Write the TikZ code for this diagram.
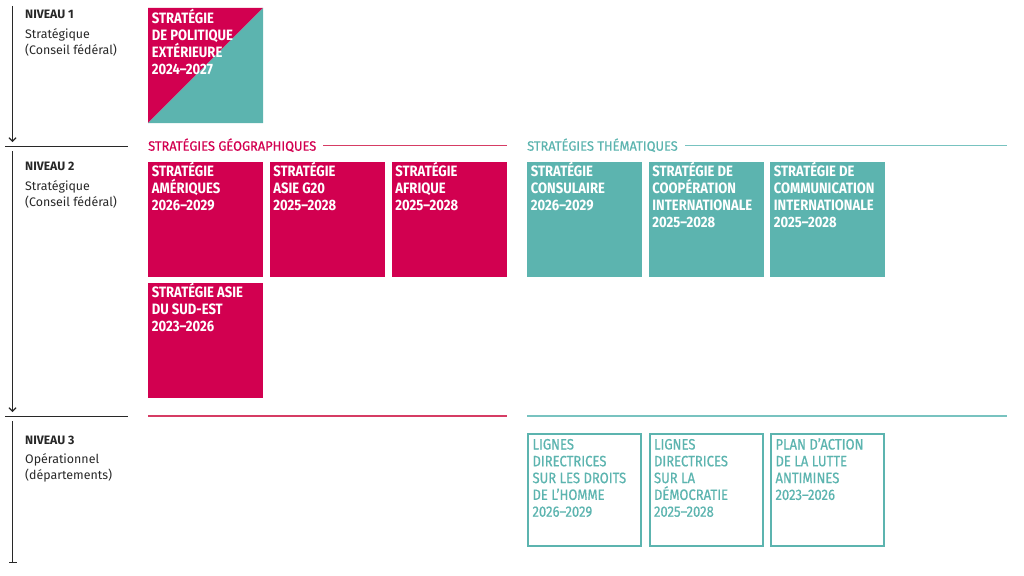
\documentclass[tikz,border=0pt]{standalone}
\usepackage{fontspec}
\usetikzlibrary{arrows.meta,calc}
\newfontfamily\cf{Fira Sans}[FakeStretch=0.87]
\newfontfamily\cfm{Fira Sans}[FakeStretch=0.87,FakeBold=0.6]
\newfontfamily\cfh{Fira Sans}[FakeStretch=0.95,FakeBold=0.6]
\newfontfamily\cfl{Fira Sans}
\definecolor{crim}{RGB}{210,0,80}
\definecolor{crimline}{RGB}{214,60,100}
\definecolor{tealf}{RGB}{92,180,175}
\definecolor{tealline}{RGB}{120,195,192}
\definecolor{axisc}{RGB}{40,40,40}
\tikzset{
  axis/.style={draw=axisc,line width=1.1pt},
  sep/.style={draw=axisc,line width=1pt},
  boxshape/.style={rectangle,anchor=north west,inner sep=0pt,outer sep=0pt,minimum width=115pt,minimum height=115pt},
  redbox/.style={boxshape,fill=crim},
  tealbox/.style={boxshape,fill=tealf},
  obox/.style={boxshape,draw=tealf,line width=2pt,minimum width=113pt,minimum height=112pt},
  wtext/.style={anchor=north west,inner sep=0pt,align=left,text=white,font=\cf\bfseries\fontsize{15}{16.8}\selectfont},
  ttext/.style={anchor=north west,inner sep=0pt,align=left,text=tealf,font=\cfm\fontsize{15}{16.8}\selectfont},
  lvlhead/.style={anchor=base west,inner sep=0pt,text=axisc,font=\cfl\bfseries\fontsize{12.2}{14}\selectfont},
  lvltext/.style={anchor=base west,inner sep=0pt,text=axisc,font=\cfl\fontsize{12.4}{14}\selectfont},
  grphead/.style={anchor=base west,inner sep=0pt,font=\cfh\fontsize{13.5}{15}\selectfont},
}
\newcommand{\fl}{\rule{0pt}{15pt}}
\begin{document}
\begin{tikzpicture}[x=1pt,y=-1pt]
\useasboundingbox (0,0) rectangle (1024,575);

% axis
\coordinate (a1s) at (12.5,6);
\coordinate (a1e) at (12.5,142);
\coordinate (a2s) at (12.5,151);
\coordinate (a2e) at (12.5,412);
\coordinate (a3s) at (12.5,421);
\coordinate (a3e) at (12.5,563);
\draw[axis,-{Straight Barb[length=3.5pt,width=7pt]}] (a1s) -- (a1e);
\draw[axis,-{Straight Barb[length=3.5pt,width=7pt]}] (a2s) -- (a2e);
\draw[axis,-{Bar[width=8pt]}] (a3s) -- (a3e);
\coordinate (s1a) at (5,146);
\coordinate (s1b) at (128,146);
\coordinate (s2a) at (5,416);
\coordinate (s2b) at (128,416);
\draw[sep] (s1a) -- (s1b);
\draw[sep] (s2a) -- (s2b);

% level labels
\node[lvlhead] (n1) at (25,19) {NIVEAU 1};
\node[lvltext] (n1a) at (25,38.5) {Stratégique};
\node[lvltext] (n1b) at (25,54.5) {(Conseil fédéral)};
\node[lvlhead] (n2) at (25,170) {NIVEAU 2};
\node[lvltext] (n2a) at (25,190) {Stratégique};
\node[lvltext] (n2b) at (25,206.5) {(Conseil fédéral)};
\node[lvlhead] (n3) at (25,444) {NIVEAU 3};
\node[lvltext] (n3a) at (25,463) {Opérationnel};
\node[lvltext] (n3b) at (25,479.5) {(départements)};

% level 1 box
\node[boxshape] (top) at (148,8) {};
\fill[crim] (top.north west) -- (top.north east) -- (top.south west) -- cycle;
\fill[tealf] (top.north east) -- (top.south east) -- (top.south west) -- cycle;
\node[wtext] (topt) at ($(top.north west)+(3.7,0.5)$) {\fl STRATÉGIE\\DE POLITIQUE\\EXTÉRIEURE\\2024–2027};

% headers
\node[grphead,text=crim] (hg) at (148,150.7) {STRATÉGIES GÉOGRAPHIQUES};
\coordinate (hgl1) at (323,145.7);
\coordinate (hgl2) at (507,145.7);
\draw[crimline,line width=1.3pt] (hgl1) -- (hgl2);
\node[grphead,text=tealf] (ht) at (527,150.7) {STRATÉGIES THÉMATIQUES};
\coordinate (htl1) at (685,145.7);
\coordinate (htl2) at (1007,145.7);
\draw[tealline,line width=1.3pt] (htl1) -- (htl2);

% level 2 boxes
\node[redbox] (g1) at (148,162) {};
\node[redbox] (g2) at (269.5,162) {};
\node[redbox] (g3) at (391.5,162) {};
\node[redbox] (g4) at (148,283) {};
\node[tealbox] (t1) at (527,162) {};
\node[tealbox] (t2) at (648.5,162) {};
\node[tealbox] (t3) at (770,162) {};
\node[wtext] (g1t) at ($(g1.north west)+(3.7,-0.3)$) {\fl STRATÉGIE\\AMÉRIQUES\\2026–2029};
\node[wtext] (g2t) at ($(g2.north west)+(3.7,-0.3)$) {\fl STRATÉGIE\\ASIE G20\\2025–2028};
\node[wtext] (g3t) at ($(g3.north west)+(3.7,-0.3)$) {\fl STRATÉGIE\\AFRIQUE\\2025–2028};
\node[wtext] (g4t) at ($(g4.north west)+(3.7,-0.3)$) {\fl STRATÉGIE ASIE\\DU SUD-EST\\2023–2026};
\node[wtext] (t1t) at ($(t1.north west)+(3.7,-0.3)$) {\fl STRATÉGIE\\CONSULAIRE\\2026–2029};
\node[wtext] (t2t) at ($(t2.north west)+(3.7,-0.3)$) {\fl STRATÉGIE DE\\COOPÉRATION\\INTERNATIONALE\\2025–2028};
\node[wtext] (t3t) at ($(t3.north west)+(3.7,-0.3)$) {\fl STRATÉGIE DE\\COMMUNICATION\\INTERNATIONALE\\2025–2028};

% level 3 lines
\coordinate (r3a) at (148,416);
\coordinate (r3b) at (507,416);
\draw[crimline,line width=1.2pt] (r3a) -- (r3b);
\coordinate (q3a) at (527,416);
\coordinate (q3b) at (1007,416);
\draw[tealline,line width=1.2pt] (q3a) -- (q3b);

% level 3 boxes
\node[obox] (o1) at (528,434) {};
\node[obox] (o2) at (649.5,434) {};
\node[obox] (o3) at (771,434) {};
\node[ttext] (o1t) at ($(o1.north west)+(4.3,0.3)$) {\fl LIGNES\\DIRECTRICES\\SUR LES DROITS\\DE L’HOMME\\2026–2029};
\node[ttext] (o2t) at ($(o2.north west)+(4.3,0.3)$) {\fl LIGNES\\DIRECTRICES\\SUR LA\\DÉMOCRATIE\\2025–2028};
\node[ttext] (o3t) at ($(o3.north west)+(4.3,0.3)$) {\fl PLAN D’ACTION\\DE LA LUTTE\\ANTIMINES\\2023–2026};
\end{tikzpicture}
\end{document}
